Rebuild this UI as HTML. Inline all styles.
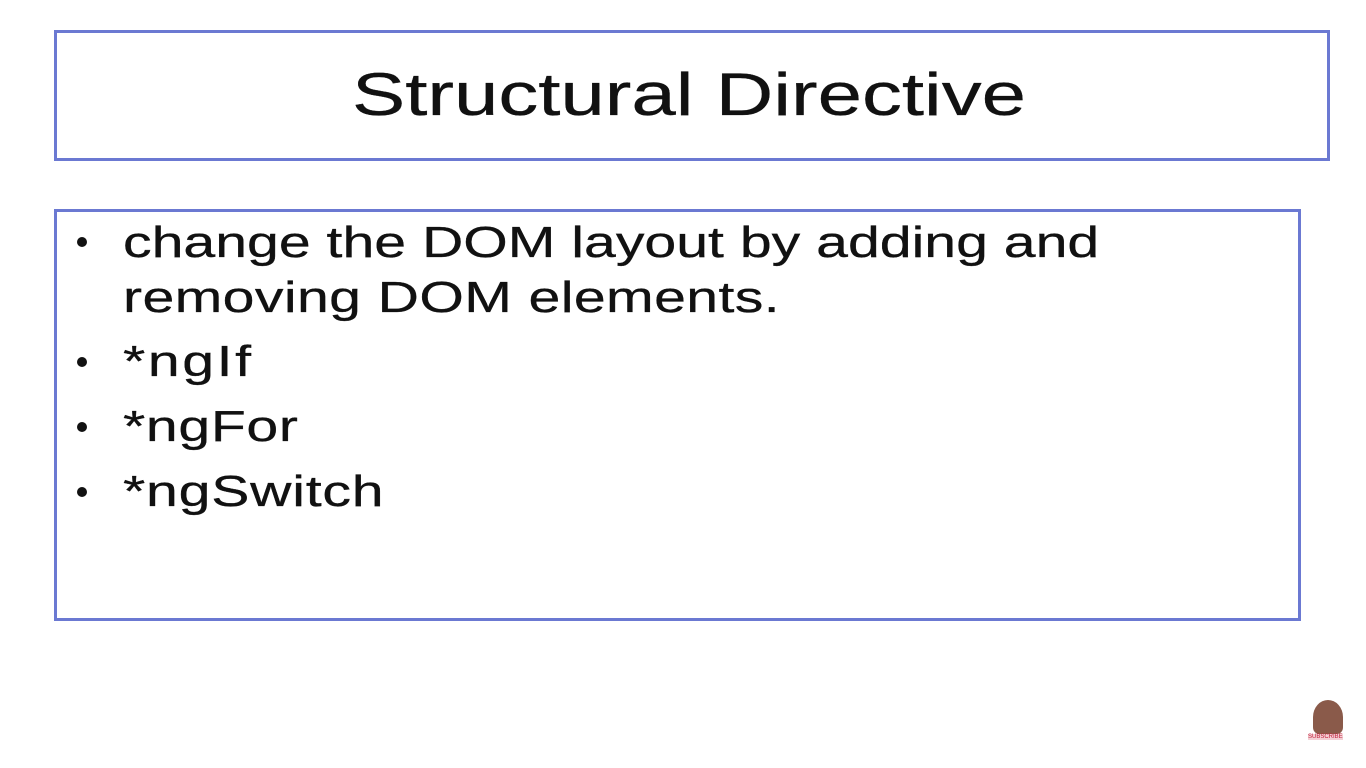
<!DOCTYPE html>
<html><head><meta charset="utf-8"><style>
html,body{margin:0;padding:0;width:1366px;height:768px;background:#fff;overflow:hidden;font-family:"Liberation Sans",sans-serif;color:#111}
.box{position:absolute;border:3px solid #6b79d2;box-sizing:border-box}
.t{position:absolute;line-height:1;white-space:nowrap;transform-origin:0 0;-webkit-text-stroke:0.3px #111}
.s{font-size:44px;transform:scaleX(1.3)}
.b{position:absolute;width:10px;height:10px;border-radius:50%;background:#111;left:77px}
</style></head><body>
<div class="box" style="left:54px;top:30px;width:1276px;height:131px"></div>
<div class="box" style="left:54px;top:209px;width:1247px;height:412px"></div>
<div class="t" style="left:352px;top:65px;font-size:60px;transform:scaleX(1.33)">Structural Directive</div>
<div class="b" style="top:237px"></div>
<div class="t s" style="left:123px;top:221px">change the DOM layout by adding and</div>
<div class="t s" style="left:123px;top:276px;letter-spacing:0.3px">removing DOM elements.</div>
<div class="b" style="top:357px"></div>
<div class="t s" style="left:123px;top:340px;letter-spacing:2px">*ngIf</div>
<div class="b" style="top:422px"></div>
<div class="t s" style="left:123px;top:405px;letter-spacing:0.5px">*ngFor</div>
<div class="b" style="top:487px"></div>
<div class="t s" style="left:123px;top:470px;letter-spacing:0.6px">*ngSwitch</div>
<div style="position:absolute;left:1313px;top:700px;width:30px;height:34px;border-radius:50% 50% 20% 20%;background:#8a5a4a"></div>
<div style="position:absolute;left:1308px;top:734px;font-size:6px;color:#c0203a;background:#f3d0d5">SUBSCRIBE</div>
</body></html>
